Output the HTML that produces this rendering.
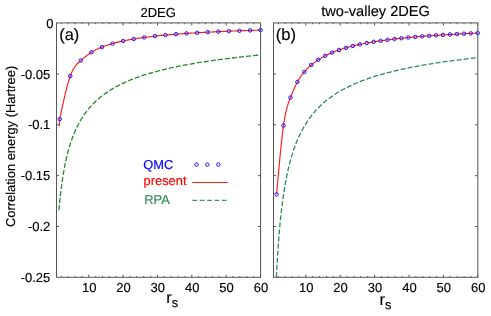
<!DOCTYPE html>
<html><head><meta charset="utf-8"><title>Correlation energy</title>
<style>html,body{margin:0;padding:0;background:#fff;}svg{display:block;text-rendering:geometricPrecision;will-change:transform;}text{font-family:"Liberation Sans",sans-serif;stroke:#000;stroke-width:.15px;}</style></head>
<body>
<svg width="491" height="316" viewBox="0 0 491 316" font-family="Liberation Sans, sans-serif" font-size="13" fill="#000">
<rect width="491" height="316" fill="#fff"/>
<defs><clipPath id="ca"><rect x="56.50" y="23.20" width="207.10" height="254.10"/></clipPath><clipPath id="cb"><rect x="273.50" y="23.20" width="207.30" height="254.10"/></clipPath></defs>
<g fill="none" clip-path="url(#ca)"><path d="M58.93 210.22 L59.14 207.90 L59.34 205.66 L59.54 203.51 L59.75 201.44 L59.95 199.44 L60.16 197.50 L60.36 195.63 L60.56 193.83 L60.77 192.08 L60.97 190.38 L61.17 188.73 L61.38 187.14 L61.58 185.58 L61.78 184.08 L61.99 182.61 L62.19 181.18 L62.39 179.80 L62.60 178.44 L62.80 177.13 L63.00 175.84 L63.21 174.59 L63.41 173.37 L63.61 172.17 L63.82 171.01 L64.02 169.87 L64.22 168.75 L64.43 167.66 L64.63 166.60 L64.84 165.56 L65.04 164.54 L65.24 163.54 L65.45 162.56 L65.65 161.60 L65.85 160.66 L66.06 159.74 L66.26 158.84 L66.46 157.95 L66.67 157.08 L66.87 156.23 L67.07 155.39 L67.28 154.57 L67.48 153.76 L67.68 152.97 L67.89 152.19 L68.09 151.42 L68.29 150.67 L68.50 149.93 L68.70 149.20 L68.91 148.49 L69.11 147.78 L69.31 147.09 L69.52 146.41 L69.72 145.74 L69.92 145.08 L70.13 144.43 L70.33 143.78 L70.53 143.15 L70.74 142.53 L70.94 141.92 L71.14 141.32 L71.35 140.72 L71.55 140.13 L71.75 139.56 L71.96 138.99 L72.16 138.42 L72.36 137.87 L72.57 137.32 L72.77 136.78 L72.98 136.25 L73.18 135.73 L73.38 135.21 L73.59 134.70 L73.79 134.19 L73.99 133.69 L74.20 133.20 L74.40 132.71 L74.60 132.23 L74.81 131.76 L75.01 131.29 L76.57 127.89 L78.13 124.77 L79.69 121.90 L81.24 119.24 L82.80 116.78 L84.36 114.48 L85.92 112.34 L87.48 110.33 L89.04 108.44 L90.60 106.63 L92.16 104.92 L93.71 103.30 L95.27 101.76 L96.83 100.30 L98.39 98.92 L99.95 97.59 L101.51 96.33 L103.07 95.12 L104.63 93.97 L106.18 92.86 L107.74 91.80 L109.30 90.78 L110.86 89.80 L112.42 88.85 L113.98 87.94 L115.54 87.06 L117.10 86.21 L118.65 85.40 L120.21 84.60 L121.77 83.84 L123.33 83.10 L124.89 82.38 L126.45 81.68 L128.01 81.01 L129.57 80.35 L131.12 79.72 L132.68 79.10 L134.24 78.50 L135.80 77.91 L137.36 77.34 L138.92 76.79 L140.48 76.25 L142.04 75.72 L143.59 75.21 L145.15 74.71 L146.71 74.22 L148.27 73.74 L149.83 73.28 L151.39 72.82 L152.95 72.38 L154.51 71.94 L156.06 71.52 L157.62 71.10 L159.18 70.70 L160.74 70.30 L162.30 69.91 L163.86 69.53 L165.42 69.16 L166.98 68.79 L168.53 68.43 L170.09 68.08 L171.65 67.73 L173.21 67.39 L174.77 67.06 L176.33 66.74 L177.89 66.42 L179.45 66.10 L181.00 65.79 L182.56 65.49 L184.12 65.19 L185.68 64.90 L187.24 64.61 L188.80 64.33 L190.36 64.05 L191.92 63.78 L193.47 63.51 L195.03 63.24 L196.59 62.98 L198.15 62.73 L199.71 62.48 L201.27 62.23 L202.83 61.98 L204.39 61.74 L205.94 61.51 L207.50 61.27 L209.06 61.04 L210.62 60.82 L212.18 60.59 L213.74 60.37 L215.30 60.16 L216.86 59.94 L218.41 59.73 L219.97 59.52 L221.53 59.32 L223.09 59.11 L224.65 58.92 L226.21 58.72 L227.77 58.52 L229.33 58.33 L230.88 58.14 L232.44 57.96 L234.00 57.77 L235.56 57.59 L237.12 57.41 L238.68 57.23 L240.24 57.06 L241.80 56.88 L243.35 56.71 L244.91 56.54 L246.47 56.38 L248.03 56.21 L249.59 56.05 L251.15 55.89 L252.71 55.73 L254.27 55.57 L255.82 55.41 L257.38 55.26 L258.94 55.11 L260.50 54.96" stroke="#228b22" stroke-width="1.3" stroke-dasharray="5 2.1"/><path d="M59.25 126.30 L59.70 119.10 L60.06 117.42 L60.41 115.74 L60.77 114.06 L61.13 112.39 L61.48 110.72 L61.84 109.07 L62.19 107.42 L62.55 105.78 L62.91 104.15 L63.26 102.54 L63.62 100.95 L63.98 99.37 L64.33 97.81 L64.69 96.28 L65.05 94.76 L65.40 93.27 L65.76 91.80 L66.12 90.36 L66.47 88.95 L66.83 87.57 L67.18 86.22 L67.54 84.90 L67.90 83.62 L68.25 82.38 L68.61 81.17 L68.97 80.00 L69.32 78.88 L69.68 77.79 L70.04 76.75 L70.39 75.76 L70.75 74.81 L71.11 73.91 L71.46 73.05 L71.82 72.23 L72.17 71.45 L72.53 70.71 L72.89 70.01 L73.24 69.34 L73.60 68.71 L73.96 68.10 L74.31 67.53 L74.67 66.99 L75.03 66.47 L75.38 65.98 L75.74 65.52 L76.10 65.07 L76.45 64.65 L76.81 64.25 L77.16 63.86 L77.52 63.49 L77.88 63.14 L78.23 62.79 L78.59 62.46 L78.95 62.14 L79.30 61.82 L79.66 61.52 L80.02 61.21 L80.37 60.91 L80.73 60.61 L81.08 60.32 L81.44 60.02 L81.80 59.72 L82.15 59.42 L82.51 59.12 L82.87 58.82 L83.22 58.53 L83.58 58.23 L83.94 57.93 L84.29 57.64 L84.65 57.35 L85.01 57.05 L85.36 56.76 L85.72 56.47 L86.07 56.19 L86.43 55.90 L86.79 55.62 L87.14 55.34 L87.50 55.07 L87.86 54.79 L88.21 54.52 L88.57 54.26 L88.93 53.99 L89.28 53.74 L89.64 53.48 L90.00 53.23 L90.35 52.98 L90.71 52.74 L91.06 52.50 L91.42 52.27 L92.49 51.61 L93.55 50.98 L94.61 50.40 L95.68 49.85 L96.74 49.33 L97.81 48.84 L98.87 48.38 L99.93 47.94 L101.00 47.51 L102.06 47.10 L103.13 46.69 L104.19 46.30 L105.25 45.92 L106.32 45.55 L107.38 45.19 L108.45 44.84 L109.51 44.50 L110.57 44.17 L111.64 43.85 L112.70 43.54 L113.77 43.24 L114.83 42.95 L115.89 42.68 L116.96 42.40 L118.02 42.14 L119.09 41.89 L120.15 41.64 L121.21 41.40 L122.28 41.17 L123.34 40.94 L124.41 40.72 L125.47 40.50 L126.53 40.29 L127.60 40.09 L128.66 39.89 L129.73 39.69 L130.79 39.50 L131.85 39.31 L132.92 39.13 L133.98 38.95 L135.05 38.78 L136.11 38.61 L137.17 38.44 L138.24 38.28 L139.30 38.12 L140.37 37.96 L141.43 37.81 L142.49 37.66 L143.56 37.52 L144.62 37.38 L145.69 37.24 L146.75 37.10 L147.81 36.96 L148.88 36.83 L149.94 36.70 L151.01 36.58 L152.07 36.45 L153.13 36.33 L154.20 36.21 L155.26 36.10 L156.33 35.98 L157.39 35.87 L158.45 35.76 L159.52 35.65 L160.58 35.54 L161.65 35.44 L162.71 35.33 L163.77 35.23 L164.84 35.13 L165.90 35.03 L166.97 34.94 L168.03 34.84 L169.09 34.75 L170.16 34.66 L171.22 34.57 L172.29 34.48 L173.35 34.39 L174.41 34.30 L175.48 34.22 L176.54 34.14 L177.61 34.05 L178.67 33.97 L179.73 33.89 L180.80 33.82 L181.86 33.74 L182.93 33.66 L183.99 33.59 L185.05 33.51 L186.12 33.44 L187.18 33.37 L188.25 33.30 L189.31 33.23 L190.37 33.16 L191.44 33.09 L192.50 33.03 L193.57 32.96 L194.63 32.89 L195.69 32.83 L196.76 32.77 L197.82 32.71 L198.89 32.64 L199.95 32.58 L201.01 32.52 L202.08 32.46 L203.14 32.41 L204.21 32.35 L205.27 32.29 L206.34 32.23 L207.40 32.18 L208.46 32.12 L209.53 32.07 L210.59 32.02 L211.66 31.96 L212.72 31.91 L213.78 31.86 L214.85 31.81 L215.91 31.76 L216.98 31.71 L218.04 31.66 L219.10 31.61 L220.17 31.56 L221.23 31.52 L222.30 31.47 L223.36 31.42 L224.42 31.38 L225.49 31.33 L226.55 31.29 L227.62 31.24 L228.68 31.20 L229.74 31.16 L230.81 31.11 L231.87 31.07 L232.94 31.03 L234.00 30.99 L235.06 30.95 L236.13 30.91 L237.19 30.87 L238.26 30.83 L239.32 30.79 L240.38 30.75 L241.45 30.71 L242.51 30.67 L243.58 30.63 L244.64 30.60 L245.70 30.56 L246.77 30.52 L247.83 30.49 L248.90 30.45 L249.96 30.42 L251.02 30.38 L252.09 30.35 L253.15 30.31 L254.22 30.28 L255.28 30.24 L256.34 30.21 L257.41 30.18 L258.47 30.14 L259.54 30.11 L260.60 30.08" stroke="#ff1a1a" stroke-width="1.15"/><g stroke="#1a1aff" stroke-width="1"><circle cx="59.70" cy="119.10" r="1.75"/><circle cx="70.27" cy="76.08" r="1.75"/><circle cx="80.85" cy="60.52" r="1.75"/><circle cx="91.42" cy="52.27" r="1.75"/><circle cx="101.99" cy="47.12" r="1.75"/><circle cx="112.57" cy="43.58" r="1.75"/><circle cx="123.14" cy="40.98" r="1.75"/><circle cx="133.72" cy="39.00" r="1.75"/><circle cx="144.29" cy="37.42" r="1.75"/><circle cx="154.86" cy="36.14" r="1.75"/><circle cx="165.44" cy="35.08" r="1.75"/><circle cx="176.01" cy="34.18" r="1.75"/><circle cx="186.58" cy="33.41" r="1.75"/><circle cx="197.16" cy="32.74" r="1.75"/><circle cx="207.73" cy="32.16" r="1.75"/><circle cx="218.31" cy="31.65" r="1.75"/><circle cx="228.88" cy="31.19" r="1.75"/><circle cx="239.45" cy="30.78" r="1.75"/><circle cx="250.03" cy="30.41" r="1.75"/><circle cx="260.60" cy="30.08" r="1.75"/></g></g>
<g fill="none" clip-path="url(#cb)"><path d="M276.04 284.05 L276.25 279.67 L276.45 275.50 L276.65 271.53 L276.85 267.72 L277.06 264.08 L277.26 260.60 L277.46 257.25 L277.66 254.03 L277.87 250.94 L278.07 247.96 L278.27 245.10 L278.47 242.33 L278.68 239.66 L278.88 237.08 L279.08 234.58 L279.28 232.17 L279.49 229.83 L279.69 227.56 L279.89 225.37 L280.09 223.23 L280.30 221.16 L280.50 219.15 L280.70 217.20 L280.90 215.30 L281.11 213.45 L281.31 211.65 L281.51 209.89 L281.71 208.18 L281.92 206.53 L282.12 204.90 L282.32 203.31 L282.52 201.76 L282.73 200.25 L282.93 198.77 L283.13 197.33 L283.33 195.92 L283.54 194.54 L283.74 193.19 L283.94 191.87 L284.14 190.58 L284.35 189.32 L284.55 188.08 L284.75 186.86 L284.95 185.68 L285.16 184.51 L285.36 183.37 L285.56 182.25 L285.76 181.15 L285.97 180.07 L286.17 179.01 L286.37 177.97 L286.57 176.95 L286.78 175.95 L286.98 174.96 L287.18 174.00 L287.38 173.05 L287.59 172.11 L287.79 171.20 L287.99 170.29 L288.19 169.40 L288.40 168.53 L288.60 167.67 L288.80 166.83 L289.00 165.99 L289.21 165.17 L289.41 164.37 L289.61 163.57 L289.81 162.79 L290.02 162.02 L290.22 161.26 L290.42 160.52 L290.62 159.78 L290.83 159.05 L291.03 158.34 L291.23 157.63 L291.43 156.94 L291.64 156.25 L291.84 155.58 L292.04 154.91 L293.60 150.06 L295.16 145.66 L296.72 141.66 L298.28 137.99 L299.85 134.61 L301.41 131.48 L302.97 128.59 L304.53 125.89 L306.09 123.37 L307.65 120.97 L309.21 118.71 L310.77 116.59 L312.33 114.59 L313.89 112.69 L315.46 110.90 L317.02 109.19 L318.58 107.57 L320.14 106.03 L321.70 104.56 L323.26 103.15 L324.82 101.81 L326.38 100.52 L327.94 99.28 L329.50 98.10 L331.07 96.96 L332.63 95.86 L334.19 94.81 L335.75 93.79 L337.31 92.81 L338.87 91.86 L340.43 90.95 L341.99 90.06 L343.55 89.21 L345.11 88.38 L346.68 87.58 L348.24 86.80 L349.80 86.05 L351.36 85.31 L352.92 84.60 L354.48 83.91 L356.04 83.24 L357.60 82.59 L359.16 81.95 L360.72 81.34 L362.29 80.73 L363.85 80.15 L365.41 79.57 L366.97 79.02 L368.53 78.47 L370.09 77.94 L371.65 77.42 L373.21 76.91 L374.77 76.42 L376.33 75.94 L377.90 75.47 L379.46 75.00 L381.02 74.55 L382.58 74.11 L384.14 73.67 L385.70 73.25 L387.26 72.83 L388.82 72.42 L390.38 72.02 L391.94 71.63 L393.51 71.25 L395.07 70.87 L396.63 70.50 L398.19 70.14 L399.75 69.79 L401.31 69.44 L402.87 69.09 L404.43 68.76 L405.99 68.43 L407.55 68.10 L409.12 67.78 L410.68 67.47 L412.24 67.16 L413.80 66.86 L415.36 66.56 L416.92 66.27 L418.48 65.98 L420.04 65.70 L421.60 65.42 L423.16 65.14 L424.73 64.87 L426.29 64.61 L427.85 64.34 L429.41 64.09 L430.97 63.83 L432.53 63.58 L434.09 63.33 L435.65 63.09 L437.21 62.85 L438.77 62.61 L440.34 62.38 L441.90 62.15 L443.46 61.92 L445.02 61.70 L446.58 61.48 L448.14 61.26 L449.70 61.05 L451.26 60.84 L452.82 60.63 L454.38 60.42 L455.95 60.22 L457.51 60.02 L459.07 59.82 L460.63 59.62 L462.19 59.43 L463.75 59.24 L465.31 59.05 L466.87 58.87 L468.43 58.68 L469.99 58.50 L471.56 58.32 L473.12 58.14 L474.68 57.97 L476.24 57.80 L477.80 57.62" stroke="#2e8b57" stroke-width="1.3" stroke-dasharray="5 2.1"/><path d="M276.60 194.42 L276.83 191.76 L277.07 189.10 L277.30 186.44 L277.53 183.79 L277.77 181.15 L278.00 178.52 L278.24 175.90 L278.47 173.31 L278.70 170.73 L278.94 168.17 L279.17 165.63 L279.40 163.12 L279.64 160.64 L279.87 158.19 L280.11 155.77 L280.34 153.38 L280.57 151.04 L280.81 148.73 L281.04 146.46 L281.27 144.24 L281.51 142.07 L281.74 139.94 L281.98 137.87 L282.21 135.85 L282.44 133.89 L282.68 131.98 L282.91 130.14 L283.14 128.35 L283.38 126.64 L283.61 124.99 L283.85 123.41 L284.08 121.89 L284.31 120.44 L284.55 119.05 L284.78 117.73 L285.01 116.45 L285.25 115.24 L285.48 114.07 L285.72 112.96 L285.95 111.89 L286.18 110.87 L286.42 109.89 L286.65 108.96 L286.88 108.06 L287.12 107.20 L287.35 106.37 L287.59 105.58 L287.82 104.82 L288.05 104.08 L288.29 103.37 L288.52 102.68 L288.75 102.01 L288.99 101.36 L289.22 100.73 L289.46 100.11 L289.69 99.51 L289.92 98.91 L290.16 98.32 L290.39 97.73 L290.62 97.15 L290.86 96.57 L291.09 95.99 L291.33 95.41 L291.56 94.84 L291.79 94.27 L292.03 93.70 L292.26 93.13 L292.49 92.57 L292.73 92.01 L292.96 91.46 L293.20 90.91 L293.43 90.36 L293.66 89.82 L293.90 89.29 L294.13 88.76 L294.36 88.23 L294.60 87.71 L294.83 87.20 L295.07 86.69 L295.30 86.19 L295.53 85.69 L295.77 85.20 L296.00 84.72 L296.23 84.24 L296.47 83.78 L296.70 83.32 L296.94 82.86 L297.17 82.42 L297.40 81.98 L298.54 79.98 L299.67 78.15 L300.81 76.48 L301.94 74.93 L303.07 73.50 L304.21 72.14 L305.34 70.85 L306.47 69.61 L307.61 68.43 L308.74 67.31 L309.88 66.24 L311.01 65.22 L312.14 64.25 L313.28 63.33 L314.41 62.45 L315.55 61.62 L316.68 60.82 L317.81 60.06 L318.95 59.33 L320.08 58.62 L321.22 57.94 L322.35 57.29 L323.48 56.67 L324.62 56.06 L325.75 55.48 L326.89 54.92 L328.02 54.38 L329.15 53.86 L330.29 53.36 L331.42 52.87 L332.56 52.40 L333.69 51.94 L334.82 51.50 L335.96 51.07 L337.09 50.66 L338.23 50.26 L339.36 49.87 L340.49 49.49 L341.63 49.12 L342.76 48.76 L343.90 48.42 L345.03 48.08 L346.16 47.75 L347.30 47.43 L348.43 47.12 L349.56 46.82 L350.70 46.52 L351.83 46.23 L352.97 45.95 L354.10 45.68 L355.23 45.41 L356.37 45.15 L357.50 44.90 L358.64 44.65 L359.77 44.41 L360.90 44.17 L362.04 43.94 L363.17 43.71 L364.31 43.49 L365.44 43.28 L366.57 43.06 L367.71 42.86 L368.84 42.65 L369.98 42.46 L371.11 42.26 L372.24 42.07 L373.38 41.88 L374.51 41.70 L375.65 41.52 L376.78 41.35 L377.91 41.17 L379.05 41.01 L380.18 40.84 L381.32 40.68 L382.45 40.52 L383.58 40.36 L384.72 40.21 L385.85 40.06 L386.98 39.91 L388.12 39.76 L389.25 39.62 L390.39 39.48 L391.52 39.34 L392.65 39.21 L393.79 39.07 L394.92 38.94 L396.06 38.81 L397.19 38.69 L398.32 38.56 L399.46 38.44 L400.59 38.32 L401.73 38.20 L402.86 38.08 L403.99 37.97 L405.13 37.86 L406.26 37.74 L407.40 37.64 L408.53 37.53 L409.66 37.42 L410.80 37.32 L411.93 37.21 L413.07 37.11 L414.20 37.01 L415.33 36.91 L416.47 36.82 L417.60 36.72 L418.74 36.63 L419.87 36.53 L421.00 36.44 L422.14 36.35 L423.27 36.26 L424.40 36.17 L425.54 36.09 L426.67 36.00 L427.81 35.92 L428.94 35.83 L430.07 35.75 L431.21 35.67 L432.34 35.59 L433.48 35.51 L434.61 35.43 L435.74 35.36 L436.88 35.28 L438.01 35.21 L439.15 35.13 L440.28 35.06 L441.41 34.99 L442.55 34.91 L443.68 34.84 L444.82 34.77 L445.95 34.71 L447.08 34.64 L448.22 34.57 L449.35 34.50 L450.49 34.44 L451.62 34.37 L452.75 34.31 L453.89 34.25 L455.02 34.19 L456.16 34.12 L457.29 34.06 L458.42 34.00 L459.56 33.94 L460.69 33.88 L461.82 33.83 L462.96 33.77 L464.09 33.71 L465.23 33.65 L466.36 33.60 L467.49 33.54 L468.63 33.49 L469.76 33.43 L470.90 33.38 L472.03 33.33 L473.16 33.28 L474.30 33.22 L475.43 33.17 L476.57 33.12 L477.70 33.07" stroke="#ff1a1a" stroke-width="1.15"/><g stroke="#1a1aff" stroke-width="1"><circle cx="276.60" cy="194.42" r="1.75"/><circle cx="283.53" cy="125.53" r="1.75"/><circle cx="290.47" cy="97.54" r="1.75"/><circle cx="297.40" cy="81.98" r="1.75"/><circle cx="304.34" cy="71.99" r="1.75"/><circle cx="311.27" cy="64.99" r="1.75"/><circle cx="318.21" cy="59.80" r="1.75"/><circle cx="325.14" cy="55.79" r="1.75"/><circle cx="332.08" cy="52.60" r="1.75"/><circle cx="339.01" cy="49.99" r="1.75"/><circle cx="345.94" cy="47.81" r="1.75"/><circle cx="352.88" cy="45.98" r="1.75"/><circle cx="359.81" cy="44.40" r="1.75"/><circle cx="366.75" cy="43.03" r="1.75"/><circle cx="373.68" cy="41.83" r="1.75"/><circle cx="380.62" cy="40.78" r="1.75"/><circle cx="387.55" cy="39.84" r="1.75"/><circle cx="394.49" cy="38.99" r="1.75"/><circle cx="401.42" cy="38.23" r="1.75"/><circle cx="408.36" cy="37.54" r="1.75"/><circle cx="415.29" cy="36.92" r="1.75"/><circle cx="422.22" cy="36.34" r="1.75"/><circle cx="429.16" cy="35.82" r="1.75"/><circle cx="436.09" cy="35.33" r="1.75"/><circle cx="443.03" cy="34.88" r="1.75"/><circle cx="449.96" cy="34.47" r="1.75"/><circle cx="456.90" cy="34.08" r="1.75"/><circle cx="463.83" cy="33.72" r="1.75"/><circle cx="470.77" cy="33.39" r="1.75"/><circle cx="477.70" cy="33.07" r="1.75"/></g></g>
<g fill="none" stroke="#555" stroke-width="1">
<rect x="56.50" y="22.90" width="204.10" height="254.40"/>
<rect x="273.50" y="22.90" width="204.30" height="254.40"/>
<path d="M61.27 277.30 v-1.30 M61.27 22.90 v1.30"/><path d="M68.14 277.30 v-1.30 M68.14 22.90 v1.30"/><path d="M75.01 277.30 v-1.30 M75.01 22.90 v1.30"/><path d="M81.88 277.30 v-1.30 M81.88 22.90 v1.30"/><path d="M88.75 277.30 v-2.60 M88.75 22.90 v2.60"/><path d="M95.62 277.30 v-1.30 M95.62 22.90 v1.30"/><path d="M102.49 277.30 v-1.30 M102.49 22.90 v1.30"/><path d="M109.36 277.30 v-1.30 M109.36 22.90 v1.30"/><path d="M116.23 277.30 v-1.30 M116.23 22.90 v1.30"/><path d="M123.10 277.30 v-2.60 M123.10 22.90 v2.60"/><path d="M129.97 277.30 v-1.30 M129.97 22.90 v1.30"/><path d="M136.84 277.30 v-1.30 M136.84 22.90 v1.30"/><path d="M143.71 277.30 v-1.30 M143.71 22.90 v1.30"/><path d="M150.58 277.30 v-1.30 M150.58 22.90 v1.30"/><path d="M157.45 277.30 v-2.60 M157.45 22.90 v2.60"/><path d="M164.32 277.30 v-1.30 M164.32 22.90 v1.30"/><path d="M171.19 277.30 v-1.30 M171.19 22.90 v1.30"/><path d="M178.06 277.30 v-1.30 M178.06 22.90 v1.30"/><path d="M184.93 277.30 v-1.30 M184.93 22.90 v1.30"/><path d="M191.80 277.30 v-2.60 M191.80 22.90 v2.60"/><path d="M198.67 277.30 v-1.30 M198.67 22.90 v1.30"/><path d="M205.54 277.30 v-1.30 M205.54 22.90 v1.30"/><path d="M212.41 277.30 v-1.30 M212.41 22.90 v1.30"/><path d="M219.28 277.30 v-1.30 M219.28 22.90 v1.30"/><path d="M226.15 277.30 v-2.60 M226.15 22.90 v2.60"/><path d="M233.02 277.30 v-1.30 M233.02 22.90 v1.30"/><path d="M239.89 277.30 v-1.30 M239.89 22.90 v1.30"/><path d="M246.76 277.30 v-1.30 M246.76 22.90 v1.30"/><path d="M253.63 277.30 v-1.30 M253.63 22.90 v1.30"/><path d="M260.50 277.30 v-2.60 M260.50 22.90 v2.60"/><path d="M56.50 74.02 h2.6 M260.60 74.02 h-2.6"/><path d="M56.50 124.84 h2.6 M260.60 124.84 h-2.6"/><path d="M56.50 175.66 h2.6 M260.60 175.66 h-2.6"/><path d="M56.50 226.48 h2.6 M260.60 226.48 h-2.6"/>
<path d="M278.28 277.30 v-1.30 M278.28 22.90 v1.30"/><path d="M285.16 277.30 v-1.30 M285.16 22.90 v1.30"/><path d="M292.04 277.30 v-1.30 M292.04 22.90 v1.30"/><path d="M298.92 277.30 v-1.30 M298.92 22.90 v1.30"/><path d="M305.80 277.30 v-2.60 M305.80 22.90 v2.60"/><path d="M312.68 277.30 v-1.30 M312.68 22.90 v1.30"/><path d="M319.56 277.30 v-1.30 M319.56 22.90 v1.30"/><path d="M326.44 277.30 v-1.30 M326.44 22.90 v1.30"/><path d="M333.32 277.30 v-1.30 M333.32 22.90 v1.30"/><path d="M340.20 277.30 v-2.60 M340.20 22.90 v2.60"/><path d="M347.08 277.30 v-1.30 M347.08 22.90 v1.30"/><path d="M353.96 277.30 v-1.30 M353.96 22.90 v1.30"/><path d="M360.84 277.30 v-1.30 M360.84 22.90 v1.30"/><path d="M367.72 277.30 v-1.30 M367.72 22.90 v1.30"/><path d="M374.60 277.30 v-2.60 M374.60 22.90 v2.60"/><path d="M381.48 277.30 v-1.30 M381.48 22.90 v1.30"/><path d="M388.36 277.30 v-1.30 M388.36 22.90 v1.30"/><path d="M395.24 277.30 v-1.30 M395.24 22.90 v1.30"/><path d="M402.12 277.30 v-1.30 M402.12 22.90 v1.30"/><path d="M409.00 277.30 v-2.60 M409.00 22.90 v2.60"/><path d="M415.88 277.30 v-1.30 M415.88 22.90 v1.30"/><path d="M422.76 277.30 v-1.30 M422.76 22.90 v1.30"/><path d="M429.64 277.30 v-1.30 M429.64 22.90 v1.30"/><path d="M436.52 277.30 v-1.30 M436.52 22.90 v1.30"/><path d="M443.40 277.30 v-2.60 M443.40 22.90 v2.60"/><path d="M450.28 277.30 v-1.30 M450.28 22.90 v1.30"/><path d="M457.16 277.30 v-1.30 M457.16 22.90 v1.30"/><path d="M464.04 277.30 v-1.30 M464.04 22.90 v1.30"/><path d="M470.92 277.30 v-1.30 M470.92 22.90 v1.30"/><path d="M477.80 277.30 v-2.60 M477.80 22.90 v2.60"/><path d="M273.50 74.02 h2.6 M477.80 74.02 h-2.6"/><path d="M273.50 124.84 h2.6 M477.80 124.84 h-2.6"/><path d="M273.50 175.66 h2.6 M477.80 175.66 h-2.6"/><path d="M273.50 226.48 h2.6 M477.80 226.48 h-2.6"/>
</g>
<text x="53.50" y="27.70" text-anchor="end">0</text>
<text x="50.30" y="78.52" text-anchor="end">-0.05</text>
<text x="50.30" y="129.34" text-anchor="end">-0.1</text>
<text x="50.30" y="180.16" text-anchor="end">-0.15</text>
<text x="50.30" y="231.38" text-anchor="end">-0.2</text>
<text x="50.30" y="282.20" text-anchor="end">-0.25</text>
<text x="89.15" y="292" text-anchor="middle">10</text>
<text x="306.20" y="292" text-anchor="middle">10</text>
<text x="123.50" y="292" text-anchor="middle">20</text>
<text x="340.60" y="292" text-anchor="middle">20</text>
<text x="157.85" y="292" text-anchor="middle">30</text>
<text x="375.00" y="292" text-anchor="middle">30</text>
<text x="192.20" y="292" text-anchor="middle">40</text>
<text x="409.40" y="292" text-anchor="middle">40</text>
<text x="226.55" y="292" text-anchor="middle">50</text>
<text x="443.80" y="292" text-anchor="middle">50</text>
<text x="260.90" y="292" text-anchor="middle">60</text>
<text x="478.20" y="292" text-anchor="middle">60</text>
<text x="158.2" y="16.9" text-anchor="middle">2DEG</text>
<text x="375.6" y="16.0" text-anchor="middle" font-size="14.6">two-valley 2DEG</text>
<text x="59.3" y="40.0" font-size="16.4">(a)</text>
<text x="275.8" y="40.0" font-size="16.6">(b)</text>
<text transform="translate(14.6 227) rotate(-90)" font-size="12.9">Correlation energy (Hartree)</text>
<text x="166.3" y="303" font-size="16.3">r<tspan font-size="12.9" dy="4.3">s</tspan></text>
<text x="379.5" y="305" font-size="16.3">r<tspan font-size="12.9" dy="4.3">s</tspan></text>
<text x="143.3" y="169.0" fill="#0000ff" style="stroke:#0000ff" font-size="12.9">QMC</text>
<text x="143.5" y="185.2" fill="#ff0000" style="stroke:#ff0000" font-size="12.9">present</text>
<text x="144.2" y="204.4" fill="#2e8b57" style="stroke:#2e8b57" font-size="12.9">RPA</text>
<g fill="none" stroke="#1a1aff" stroke-width="1"><circle cx="196.5" cy="164.6" r="1.75"/><circle cx="207.3" cy="164.6" r="1.75"/><circle cx="218.3" cy="164.6" r="1.75"/></g>
<path d="M192.3 182.5 H227.7" stroke="#ff1a1a" stroke-width="1.15" fill="none"/>
<path d="M192.3 200.4 H227" stroke="#3f9565" stroke-width="1.2" stroke-dasharray="4.9 2.5" fill="none"/>
</svg>
</body></html>
